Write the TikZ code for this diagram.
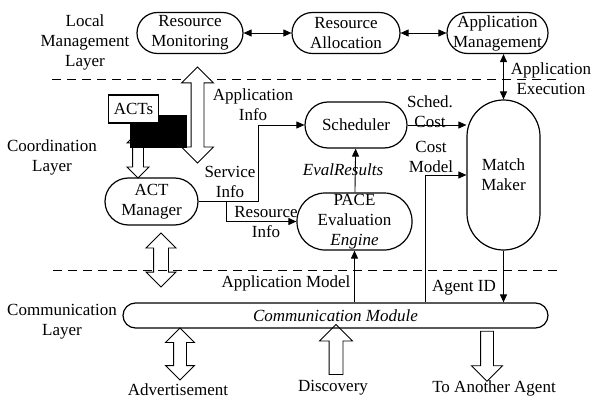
\documentclass[tikz,border=0pt]{standalone}
\usepackage{fontspec}
\setmainfont{Liberation Serif}
\usetikzlibrary{arrows.meta,shapes.arrows}

\begin{document}
\begin{tikzpicture}[x=1pt,y=-1pt,
  every node/.style={font=\fontsize{17}{20}\selectfont},
  proc/.style={draw, line width=1.2pt, align=center, inner sep=0pt},
  lbl/.style={align=center, inner sep=0pt},
  link/.style={line width=0.9pt},
  tip/.style={-{Triangle[length=8pt,width=7pt]}},
  tips/.style={{Triangle[length=8pt,width=7pt]}-{Triangle[length=8pt,width=7pt]}},
  hollow/.style={draw, line width=0.9pt, fill=white},
  sep/.style={line width=1pt, dash pattern=on 9pt off 6pt}]

\useasboundingbox (0,0) rectangle (591,398);

% layer separators
\draw [sep] (52,80) to (562,80);
\draw [sep] (53,270) to (562,270);

\node [lbl] (lml) at (85,42) {Local\\Management\\Layer};
\node [lbl] (col) at (52,157) {Coordination\\Layer};
\node [lbl] (cml) at (62,322) {Communication\\Layer};

% hollow arrows
\node [hollow, double arrow, rotate=90, minimum height=96pt, inner sep=6pt,
  double arrow head extend=9.5pt] (bigarr) at (197.5,115) {};
\node [hollow, double arrow, rotate=90, minimum height=46pt, inner sep=5pt,
  double arrow head extend=5.5pt] (actarr) at (138,155) {};
\node [hollow, fill=none, double arrow, rotate=90, minimum height=54pt, inner sep=7pt,
  double arrow head extend=7.5pt] (commarr) at (161,260) {};
\node [hollow, double arrow, rotate=90, minimum height=52pt, inner sep=6pt,
  double arrow head extend=8pt] (advarr) at (180,354) {};
\node [hollow, single arrow, rotate=90, minimum height=50pt, inner sep=6.5pt,
  single arrow head extend=9.5pt] (discarr) at (336,353) {};
\node [hollow, single arrow, rotate=-90, minimum height=50pt, inner sep=6pt,
  single arrow head extend=9pt] (agentarr) at (487,353) {};

% ACT store
\node [fill=black, inner sep=0pt, minimum width=57pt, minimum height=33pt] (actdb) at (158.5,131.5) {};
\node [proc, fill=white, minimum width=50pt, minimum height=28pt] (acts) at (133.5,109) {ACTs};

% local management layer
\node [proc, rounded corners=20.5pt, minimum width=106pt, minimum height=41pt] (rm) at (190,33) {Resource\\Monitoring};
\node [proc, rounded corners=20.5pt, minimum width=108pt, minimum height=41pt] (ra) at (346,33) {Resource\\Allocation};
\node [proc, rounded corners=20.5pt, minimum width=101pt, minimum height=41pt] (am) at (497.5,33) {Application\\Management};

% coordination layer
\node [proc, rounded corners=23pt, minimum width=102pt, minimum height=46pt] (sched) at (356,125) {Scheduler};
\node [proc, rounded corners=28pt, minimum width=115pt, minimum height=57pt] (pace) at (354.5,221.5) {PACE\\Evaluation\\\textit{Engine}};
\node [proc, rounded corners=23.5pt, minimum width=93pt, minimum height=47pt] (mgr) at (151.5,201.5) {ACT\\Manager};
\node [proc, rounded corners=36.5pt, minimum width=73pt, minimum height=150pt] (mm) at (503.5,175) {Match\\Maker};

% communication layer
\node [proc, rounded corners=12.5pt, minimum width=425pt, minimum height=25pt] (comm) at (335.5,315.5) {\itshape Communication Module};

\coordinate (svc) at (258,125);
\coordinate (res) at (226,222);
\coordinate (cmb) at (425,176);

\draw [link, tips] (rm) -- (ra);
\draw [link, tips] (ra) -- (am);
\draw [link, tips] (am.south -| mm.north) -- (mm.north);
\draw [link, tip] (mgr.east) -| (svc) -- (sched.west);
\draw [link, tip] (mgr.east -| res) |- (pace.west);
\draw [link, tip] (pace) -- (sched);
\draw [link, tip] (sched.east) -- (sched.east -| mm.west);
\draw [link, tip] (comm.north -| cmb) |- (mm.west);
\draw [link, tip] (comm.north -| pace.south) -- (pace.south);
\draw [link, tip] (mm.south) -- (mm.south |- comm.north);

\node [lbl] (appinfo) at (253,105) {Application\\Info};
\node [lbl] (svcinfo) at (230,181.5) {Service\\Info};
\node [lbl] (resinfo) at (266,222) {Resource\\Info};
\node [lbl] (schedcost) at (430,112) {Sched.\\Cost};
\node [lbl] (evalres) at (343,170) {\itshape EvalResults};
\node [lbl] (costmodel) at (431,156.5) {Cost\\Model};
\node [lbl] (appmodel) at (286,283) {Application Model};
\node [lbl] (agentid) at (464,288) {Agent ID};
\node [lbl] (appexec) at (551,79) {Application\\Execution};
\node [lbl] (adv) at (178,390) {Advertisement};
\node [lbl] (disc) at (333,388) {Discovery};
\node [lbl] (another) at (494,388) {To Another Agent};
\end{tikzpicture}
\end{document}
